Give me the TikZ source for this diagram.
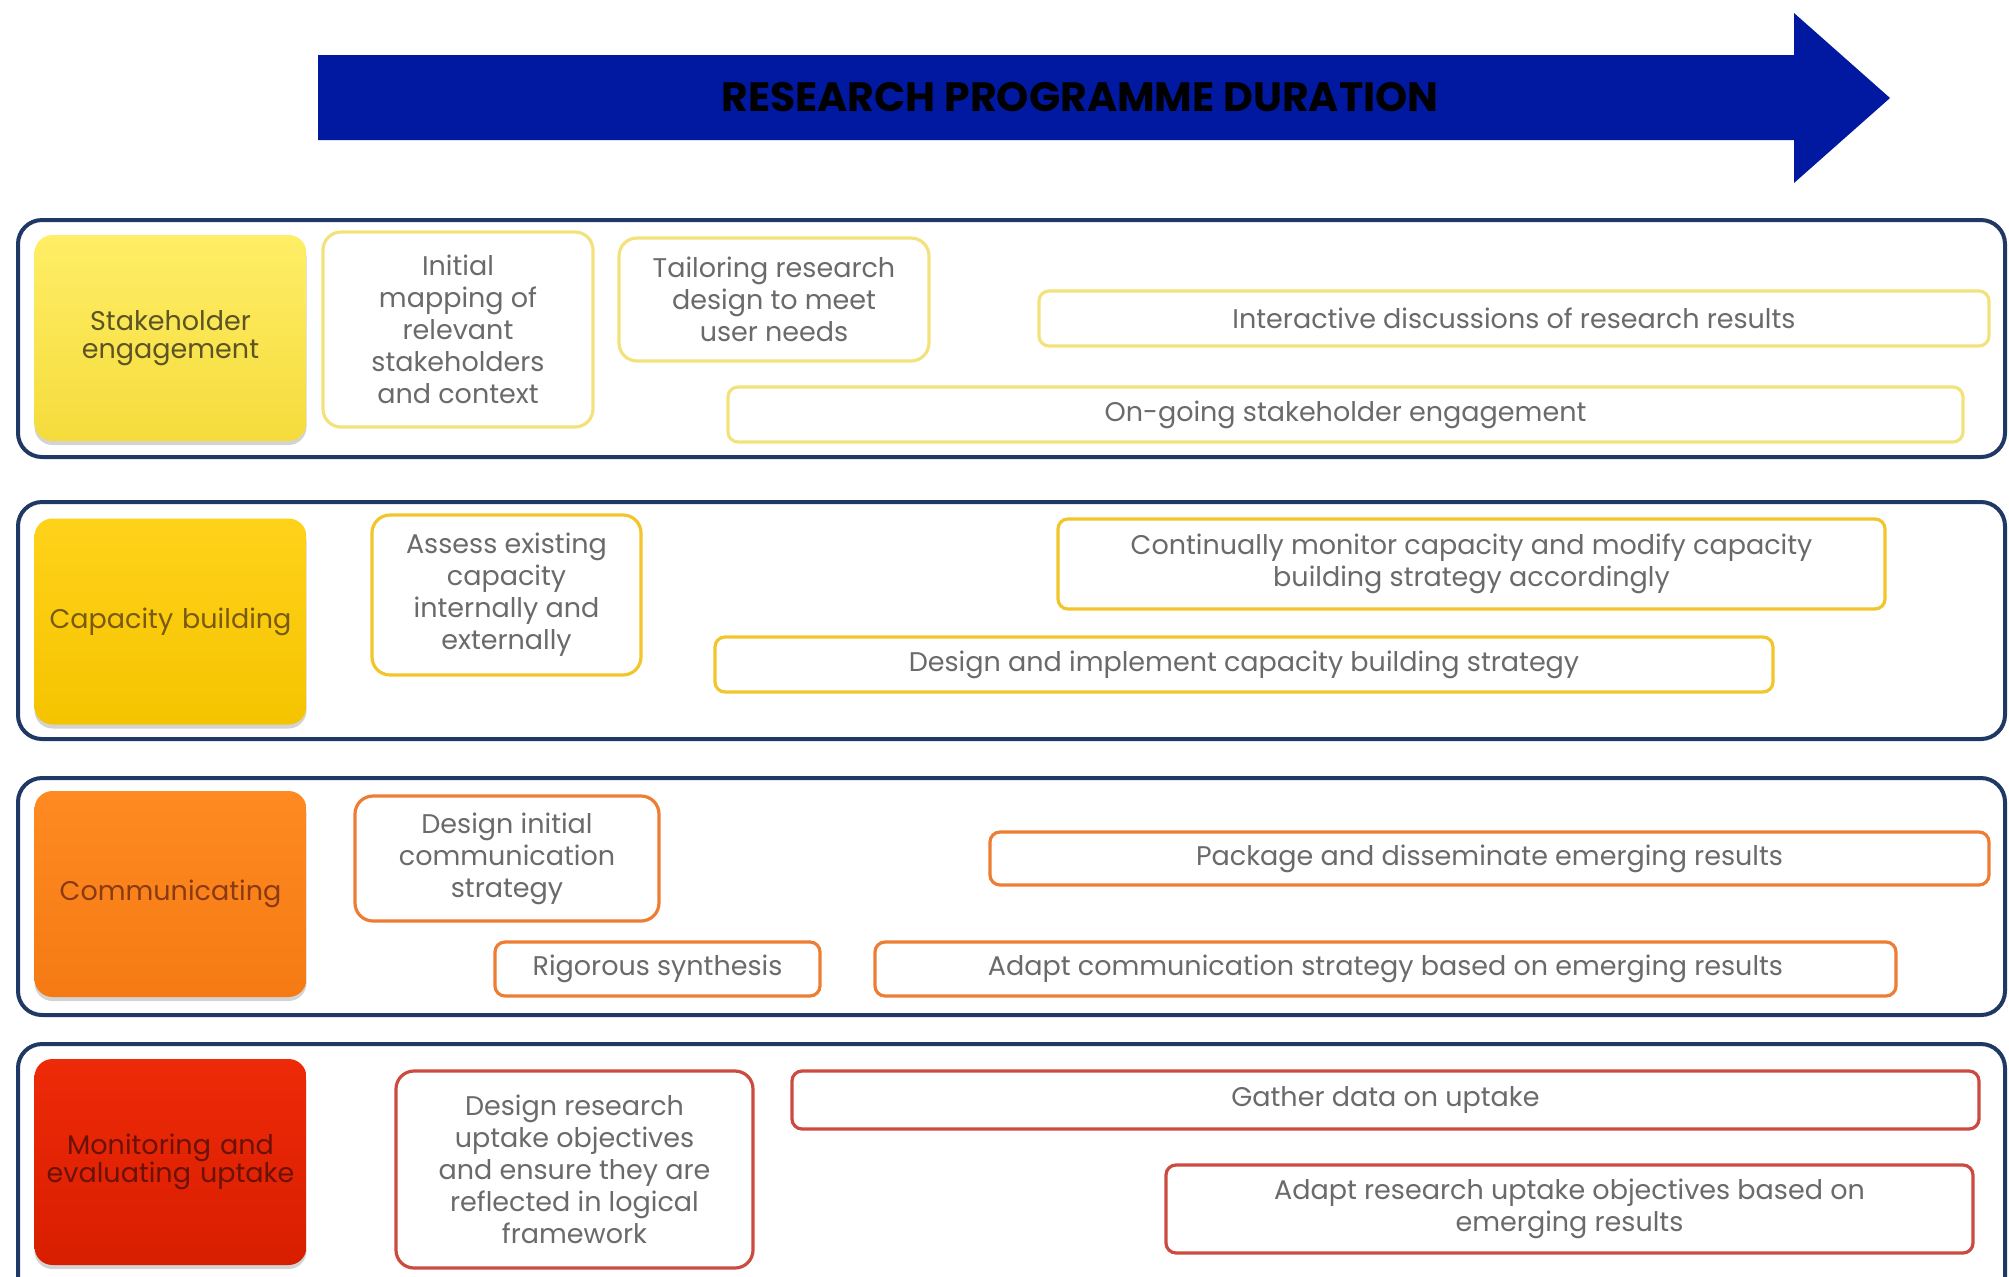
\documentclass[tikz,border=0pt]{standalone}
\usepackage{fontspec}
\setmainfont{Poppins}
\usetikzlibrary{shadows}

\definecolor{navy}{HTML}{1F3864}
\definecolor{arrowblue}{HTML}{0019A0}
\definecolor{itemtext}{HTML}{6A6A6A}
\definecolor{ylA}{HTML}{FFEE66}\definecolor{ylB}{HTML}{F5DC3C}\definecolor{ylE}{HTML}{F3E27C}\definecolor{ylT}{HTML}{5C5424}
\definecolor{gdA}{HTML}{FFD21A}\definecolor{gdB}{HTML}{F5C400}\definecolor{gdE}{HTML}{F2C62A}\definecolor{gdT}{HTML}{7A5A10}
\definecolor{orA}{HTML}{FF8A22}\definecolor{orB}{HTML}{F57A14}\definecolor{orE}{HTML}{EE7D34}\definecolor{orT}{HTML}{8A3A12}
\definecolor{rdA}{HTML}{EE2A08}\definecolor{rdB}{HTML}{D81E00}\definecolor{rdE}{HTML}{CC4A40}\definecolor{rdT}{HTML}{6A1208}

\tikzset{
  rowbox/.style={draw=navy, line width=2pt, rounded corners=12pt},
  rowlabel/.style 2 args={rounded corners=9pt, top color=#1, bottom color=#2,
    minimum width=134.5pt, minimum height=103pt, inner sep=0pt,
    text width=136pt, align=center, font=\fontsize{13.5}{14}\selectfont,
    drop shadow={shadow xshift=0pt, shadow yshift=-2pt, opacity=0.35}},
  item/.style={draw=#1, line width=1.6pt, fill=white, rounded corners=9pt,
    inner sep=0pt, align=center, text=itemtext,
    font=\fontsize{13.5}{16}\selectfont},
  flat/.style={rounded corners=5pt},
  titletext/.style={font=\bfseries\fontsize{20.5}{22}\selectfont, text=black}
}

\begin{document}
\begin{tikzpicture}[x=0.5pt, y=-0.5pt]
\useasboundingbox (0,0) rectangle (2009,1276);
\clip (0,0) rectangle (2009,1276);

% programme duration arrow
\fill[arrowblue] (318,55) -- (1794,55) -- (1794,13) -- (1890,98)
  -- (1794,183) -- (1794,140) -- (318,140) -- cycle;
\node[titletext] (title) at (1080,97) {RESEARCH PROGRAMME DURATION};

% swim lanes
\draw[rowbox] (18,220) rectangle (2005,457);
\draw[rowbox] (18,502) rectangle (2005,739);
\draw[rowbox] (18,778) rectangle (2005,1015);
\draw[rowbox] (18,1044) rectangle (2005,1310);

% lane 1: stakeholder engagement
\node[rowlabel={ylA}{ylB}, text=ylT] (lab1) at (170.5,338) {Stakeholder\\engagement};
\node[item=ylE, minimum width=135pt, minimum height=97.5pt] (a1) at (458,329.5)
  {Initial\\mapping of\\relevant\\stakeholders\\and context};
\node[item=ylE, minimum width=155pt, minimum height=61.5pt] (a2) at (774,299.5)
  {Tailoring research\\design to meet\\user needs};
\node[item=ylE, flat, minimum width=475pt, minimum height=27.5pt] (a3) at (1514,318.5)
  {Interactive discussions of research results};
\node[item=ylE, flat, minimum width=617.5pt, minimum height=27.5pt] (a4) at (1345.5,414.5)
  {On-going stakeholder engagement};

% lane 2: capacity building
\node[rowlabel={gdA}{gdB}, text=gdT] (lab2) at (170.5,621.5) {Capacity building};
\node[item=gdE, minimum width=134.5pt, minimum height=80pt] (b1) at (506.5,595)
  {Assess existing\\capacity\\internally and\\externally};
\node[item=gdE, flat, minimum width=413.5pt, minimum height=45pt] (b2) at (1471.5,564)
  {Continually monitor capacity and modify capacity\\building strategy accordingly};
\node[item=gdE, flat, minimum width=529pt, minimum height=27.5pt] (b3) at (1244,664.5)
  {Design and implement capacity building strategy};

% lane 3: communicating
\node[rowlabel={orA}{orB}, text=orT] (lab3) at (170.5,894) {Communicating};
\node[item=orE, minimum width=152pt, minimum height=62.5pt] (c1) at (507,858.5)
  {Design initial\\communication\\strategy};
\node[item=orE, flat, minimum width=499.5pt, minimum height=26.5pt] (c2) at (1489.5,858.5)
  {Package and disseminate emerging results};
\node[item=orE, flat, minimum width=162.5pt, minimum height=27pt] (c3) at (657.5,969)
  {Rigorous synthesis};
\node[item=orE, flat, minimum width=510.5pt, minimum height=27pt] (c4) at (1385.5,969)
  {Adapt communication strategy based on emerging results};

% lane 4: monitoring and evaluating uptake
\node[rowlabel={rdA}{rdB}, text=rdT] (lab4) at (170.5,1162) {Monitoring and\\evaluating uptake};
\node[item=rdE, minimum width=178.5pt, minimum height=98.5pt] (d1) at (574.5,1169.5)
  {Design research\\uptake objectives\\and ensure they are\\reflected in logical\\framework};
\node[item=rdE, flat, minimum width=593.5pt, minimum height=29pt] (d2) at (1385.5,1100)
  {Gather data on uptake};
\node[item=rdE, flat, minimum width=403.5pt, minimum height=44pt] (d3) at (1569.5,1209)
  {Adapt research uptake objectives based on\\emerging results};
\end{tikzpicture}
\end{document}
